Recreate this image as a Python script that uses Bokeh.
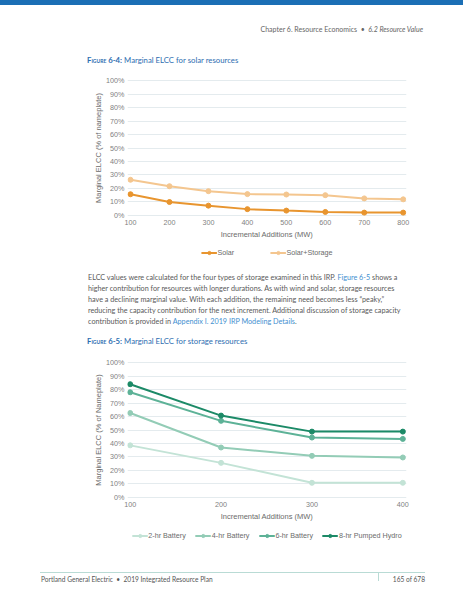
from bokeh.embed import file_html
from bokeh.resources import INLINE
from bokeh.plotting import figure
from bokeh.models import Range1d, Legend, LegendItem, Div, FixedTicker
from bokeh.layouts import column

PAGE_WIDTH = 463
DOC_FONT = "Lato"
CHART_FONT = "Liberation Sans"
TITLE_BLUE = "#2c6db0"
LINK_BLUE = "#3f8fd0"
GRID_COLOUR = "#e4ebee"

# Figure 6-4: marginal ELCC (% of nameplate) for solar
solar_mw = [100, 200, 300, 400, 500, 600, 700, 800]
solar = [15.5, 9.7, 7.0, 4.4, 3.3, 2.3, 1.8, 1.8]
solar_storage = [26.3, 21.5, 17.8, 15.6, 15.3, 14.8, 12.4, 11.7]

# Figure 6-5: marginal ELCC (% of nameplate) for storage
storage_mw = [100, 200, 300, 400]
battery_2hr = [38.6, 25.6, 10.8, 10.8]
battery_4hr = [62.6, 37.0, 30.8, 29.6]
battery_6hr = [78.0, 56.8, 44.4, 43.4]
pumped_hydro_8hr = [84.0, 60.7, 48.8, 48.8]

y_ticks = list(range(0, 101, 10))

paragraph_lines = [
    "ELCC values were calculated for the four types of storage examined in this IRP. "
    "<span style='color:%s'>Figure 6-5</span> shows a" % LINK_BLUE,
    "higher contribution for resources with longer durations. As with wind and solar, storage resources",
    "have a declining marginal value. With each addition, the remaining need becomes less \u201cpeaky,\u201d",
    "reducing the capacity contribution for the next increment. Additional discussion of storage capacity",
    "contribution is provided in <span style='color:%s'>Appendix I. 2019 IRP Modeling Details</span>." % LINK_BLUE,
]


def abs_text(html, top, left=None, right=None, size=7.0, colour="#595959", extra=""):
    side = "left:%spx;" % left if left is not None else "right:%spx;" % right
    return ("<div style='position:absolute;top:%spx;%swhite-space:nowrap;font-family:%s;"
            "font-size:%spx;line-height:%spx;color:%s;%s'>%s</div>"
            % (top, side, DOC_FONT, size, size * 1.25, colour, extra, html))


def block(height, inner):
    return Div(text="<div style='position:relative;width:%spx;height:%spx;overflow:visible'>%s</div>"
               % (PAGE_WIDTH, height, inner), width=PAGE_WIDTH, height=height, margin=0)


def fig_title(number, caption, top):
    html = ("<span style='font-variant:small-caps;font-weight:bold'>Figure %s:</span> %s"
            % (number, caption))
    return abs_text(html, top, left=87, size=7.75, colour=TITLE_BLUE)


def add_series(p, xs, series, colours, visible=True):
    renderers = []
    for ys, colour in zip(series, colours):
        ln = p.line(xs, ys, line_color=colour, line_width=2, visible=visible)
        sc = p.scatter(xs, ys, marker="circle", size=5, fill_color=colour,
                       line_color=colour, visible=visible)
        renderers.append([ln, sc])
    return renderers


def chart(xs, series, colours, x_range, y_range, frame_left, frame_width, height, y_label):
    p = figure(width=PAGE_WIDTH, height=height, x_range=x_range, y_range=y_range,
               min_border_left=frame_left, min_border_right=PAGE_WIDTH - frame_left - frame_width,
               min_border_top=9, min_border_bottom=height - 9 - 137, output_backend="svg",
               toolbar_location=None, margin=0, outline_line_color=None)
    add_series(p, xs, series, colours)

    p.xgrid.visible = False
    p.ygrid.ticker = FixedTicker(ticks=y_ticks)
    p.ygrid.grid_line_color = GRID_COLOUR

    p.xaxis.ticker = FixedTicker(ticks=xs)
    p.yaxis.ticker = FixedTicker(ticks=y_ticks)
    p.yaxis.major_label_overrides = {v: "%d%%" % v for v in y_ticks}
    for ax in (p.xaxis, p.yaxis):
        ax.axis_line_color = None
        ax.major_tick_line_color = None
        ax.minor_tick_line_color = None
        ax.major_tick_out = 0
        ax.major_tick_in = 0
        ax.minor_tick_out = 0
        ax.major_label_text_font = CHART_FONT
        ax.major_label_text_font_size = "7.2px"
        ax.major_label_text_color = "#7f7f7f"
        ax.major_label_standoff = 3
        ax.axis_label_text_font = CHART_FONT
        ax.axis_label_text_font_size = "7.5px"
        ax.axis_label_text_font_style = "normal"
        ax.axis_label_text_color = "#6b6b6b"
        ax.axis_label_standoff = 2
    p.yaxis.axis_label_standoff = 0
    p.xaxis.axis_label = "Incremental Additions (MW)"
    p.yaxis.axis_label = y_label
    return p


def legend_strip(xs, series, names, colours, frame_left, frame_width, spacing):
    # legends are clipped to a plot's frame, so each chart gets its own strip underneath
    p = figure(width=PAGE_WIDTH, height=18, x_range=Range1d(0, 1), y_range=Range1d(0, 1),
               min_border_left=frame_left, min_border_right=PAGE_WIDTH - frame_left - frame_width,
               min_border_top=0, min_border_bottom=2, x_axis_location=None,
               y_axis_location=None, output_backend="svg", toolbar_location=None,
               margin=0, outline_line_color=None)
    p.grid.visible = False
    renderers = add_series(p, xs, series, colours, visible=False)
    items = [LegendItem(label=n, renderers=r) for n, r in zip(names, renderers)]
    legend = Legend(items=items, orientation="horizontal", location="center",
                    label_text_font=CHART_FONT, label_text_font_size="7.2px",
                    label_text_color="#6b6b6b", glyph_width=16, glyph_height=8,
                    label_height=8, label_standoff=1, spacing=spacing, padding=0,
                    margin=0, border_line_color=None, background_fill_alpha=0)
    p.add_layout(legend)
    return p


solar_colours = ["#e8952f", "#f4c68f"]
storage_colours = ["#c3e3d6", "#93ccb6", "#5db297", "#1c8a67"]
storage_series = [battery_2hr, battery_4hr, battery_6hr, pumped_hydro_8hr]

header = block(70, (
    "<div style='position:absolute;left:0;top:0;width:%spx;height:5px;background:#1b6fb5'></div>"
    % PAGE_WIDTH
    + abs_text("Chapter 6. Resource Economics &nbsp;\u2022&nbsp; <i>6.2 Resource Value</i>", 25,
               right=40, colour="#666666")
    + fig_title("6-4", "Marginal ELCC for solar resources", 56)
))

solar_fig = chart(solar_mw, [solar, solar_storage], solar_colours,
                  Range1d(92.3, 808.47), Range1d(-1.1, 101.1), 127, 279, 174,
                  "Marginal ELCC (% of nameplate)")
solar_legend = legend_strip(solar_mw, [solar, solar_storage], ["Solar", "Solar+Storage"],
                            solar_colours, 127, 279, 32)

middle = block(90, (
    abs_text("<br>".join(paragraph_lines), 11, left=88, size=7.23,
             extra="line-height:10.9px;")
    + fig_title("6-5", "Marginal ELCC for storage resources", 75)
))

storage_fig = chart(storage_mw, storage_series, storage_colours,
                    Range1d(97.06, 404.03), Range1d(-0.85, 100.85), 125, 282, 175,
                    "Marginal ELCC (% of Nameplate)")
storage_legend = legend_strip(storage_mw, storage_series,
                              ["2-hr Battery", "4-hr Battery", "6-hr Battery", "8-hr Pumped Hydro"],
                              storage_colours, 124, 282, 9)

footer = block(54, (
    "<div style='position:absolute;left:40px;top:27px;width:385px;height:1px;background:#b9dbd5'></div>"
    "<div style='position:absolute;left:378px;top:27px;width:1px;height:9px;background:#b9dbd5'></div>"
    + abs_text("Portland General Electric &nbsp;\u2022&nbsp; 2019 Integrated Resource Plan", 29.5,
               left=41, size=6.6, colour="#555555")
    + abs_text("165 of 678", 29.5, right=38, size=6.6, colour="#555555")
))

page = column(header, solar_fig, solar_legend, middle, storage_fig, storage_legend, footer,
              spacing=0, margin=0)

open("out.html", "w").write(file_html(page, INLINE))
